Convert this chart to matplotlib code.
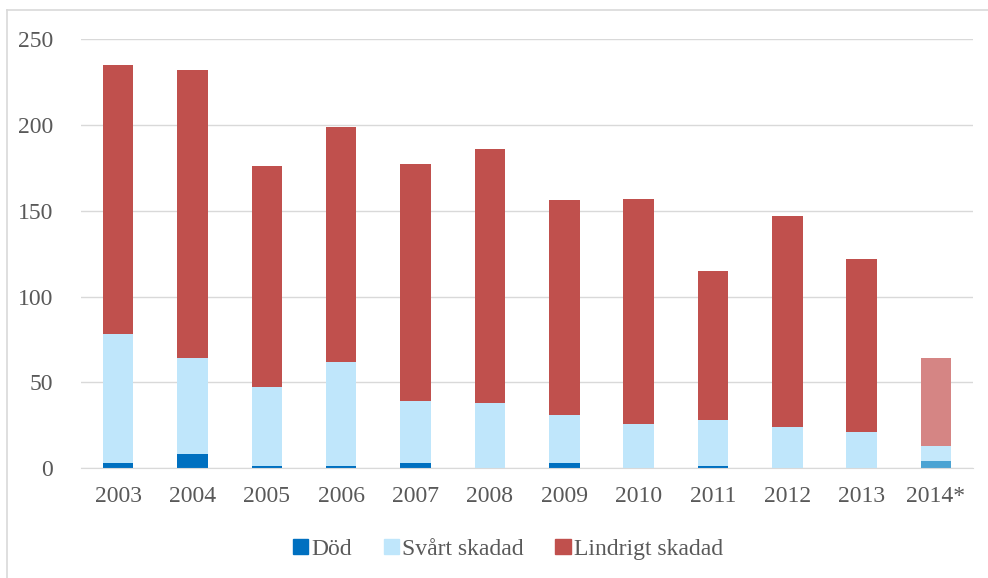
import numpy as np
import matplotlib.pyplot as plt
from matplotlib.patches import Patch
from matplotlib.lines import Line2D

years = ['2003', '2004', '2005', '2006', '2007', '2008', '2009', '2010',
         '2011', '2012', '2013', '2014*']
dod = [3, 8, 1, 1, 3, 0, 3, 0, 1, 0, 0, 4]
svart = [75, 56, 46, 61, 36, 38, 28, 26, 27, 24, 21, 9]
lindrigt = [157, 168, 129, 137, 138, 148, 125, 131, 87, 123, 101, 51]

plt.rcParams['font.family'] = ['Liberation Serif', 'DejaVu Serif']

c_dod = ['#0070C0'] * 11 + ['#4BA3D3']
c_svart = ['#BFE6FB'] * 11 + ['#C4E8FB']
c_lind = ['#C0504D'] * 11 + ['#D58584']

fig = plt.figure(figsize=(9.88, 5.78), dpi=100)
ax = fig.add_axes([0.082, 0.19, 0.903, 0.7425])

x = np.arange(len(years))
w = 0.41
dod = np.array(dod)
svart = np.array(svart)
lindrigt = np.array(lindrigt)
ax.bar(x, dod, w, color=c_dod, zorder=3)
ax.bar(x, svart, w, bottom=dod, color=c_svart, zorder=3)
ax.bar(x, lindrigt, w, bottom=dod + svart, color=c_lind, zorder=3)

ax.set_xlim(-0.5, len(years) - 0.5)
ax.set_ylim(0, 250)
ax.set_yticks(range(0, 251, 50))
ax.set_xticks(x)
ax.set_xticklabels(years)
ax.yaxis.grid(True, color='#D9D9D9', linewidth=1)
ax.set_axisbelow(True)
for s in ['top', 'right', 'left']:
    ax.spines[s].set_visible(False)
ax.spines['bottom'].set_color('#D9D9D9')
ax.spines['bottom'].set_zorder(4)
ax.tick_params(length=0, labelsize=17, colors='#595959')
ax.tick_params(axis='x', pad=13)
ax.tick_params(axis='y', pad=20)

handles = [Patch(color='#0070C0', label='Död'),
           Patch(color='#BFE6FB', label='Svårt skadad'),
           Patch(color='#C0504D', label='Lindrigt skadad')]
leg = fig.legend(handles=handles, loc='center', bbox_to_anchor=(0.514, 0.05),
                 ncol=3, frameon=False, fontsize=17, handlelength=0.65,
                 handleheight=0.65, handletextpad=0.12, columnspacing=1.35)
for t in leg.get_texts():
    t.set_color('#595959')

# chart border (left and top edges visible)
fig.add_artist(Line2D([0.007, 0.007], [0.0, 0.983], transform=fig.transFigure,
                      color='#D9D9D9', linewidth=1.2))
fig.add_artist(Line2D([0.007, 1.0], [0.983, 0.983], transform=fig.transFigure,
                      color='#D9D9D9', linewidth=1.2))

fig.savefig('out.png', dpi=100)
